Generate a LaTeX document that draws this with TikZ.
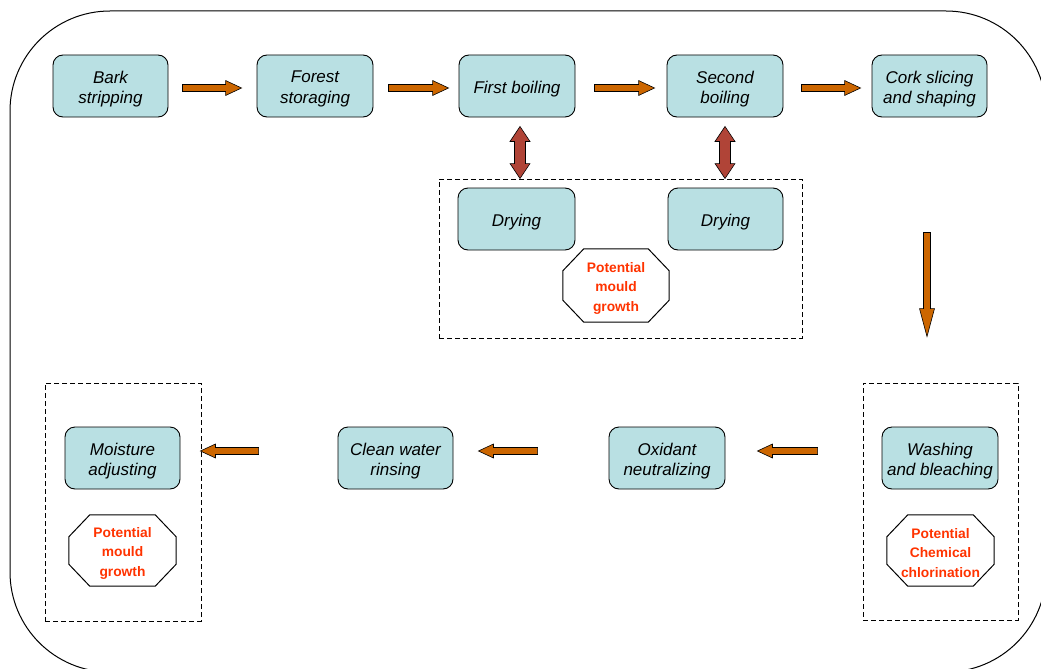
\documentclass[tikz,border=0pt]{standalone}
\usepackage{fontspec}
\setmainfont{Liberation Sans}
\usetikzlibrary{calc}
\definecolor{boxfill}{RGB}{185,224,227}
\definecolor{arrorange}{RGB}{204,102,0}
\definecolor{arrred}{RGB}{176,68,55}
\definecolor{warnred}{RGB}{255,51,0}
\tikzset{
  steptext/.style={align=center, inner sep=0pt, yshift=-3pt,
    font=\fontsize{17}{20.5}\selectfont\itshape, text=black},
  stepbox/.style={draw=black, line width=0.9pt, fill=boxfill, rounded corners=10pt,
    minimum width=115pt, minimum height=62pt, inner sep=0pt,
    label={[steptext]center:#1}},
  warntext/.style={align=center, inner sep=0pt, yshift=-2.5pt,
    font=\fontsize{13.8}{19.5}\selectfont\bfseries, text=warnred},
  warnbox/.style={minimum width=106pt, minimum height=72pt, inner sep=0pt,
    label={[warntext]center:#1}},
  octline/.style={draw=black, line width=1pt},
  groupbox/.style={draw=black, dash pattern=on 5pt off 3pt, line width=0.9pt, inner sep=0pt},
  flowarrow/.style={draw=black, line width=0.6pt, fill=arrorange},
  duoarrow/.style={draw=black, line width=0.6pt, fill=arrred},
  outline/.style={draw=black, line width=1pt, rounded corners=100pt},
}
% block arrow: style, from, to, half shaft, half head, head length
\newcommand\blockarrow[6]{%
  \coordinate (ba-a) at (#2); \coordinate (ba-b) at (#3);
  \coordinate (ba-h) at ($(ba-b)!#6!(ba-a)$);
  \draw[#1] ($(ba-a)!#4!90:(ba-b)$) -- ($(ba-h)!#4!-90:(ba-a)$) -- ($(ba-h)!#5!-90:(ba-a)$)
    -- (ba-b) -- ($(ba-h)!#5!90:(ba-a)$) -- ($(ba-h)!#4!90:(ba-a)$)
    -- ($(ba-a)!#4!-90:(ba-b)$) -- cycle;}
% double block arrow
\newcommand\dblblockarrow[6]{%
  \coordinate (da-a) at (#2); \coordinate (da-b) at (#3);
  \coordinate (da-h1) at ($(da-a)!#6!(da-b)$); \coordinate (da-h2) at ($(da-b)!#6!(da-a)$);
  \draw[#1] (da-a) -- ($(da-h1)!#5!90:(da-b)$) -- ($(da-h1)!#4!90:(da-b)$)
    -- ($(da-h2)!#4!-90:(da-a)$) -- ($(da-h2)!#5!-90:(da-a)$) -- (da-b)
    -- ($(da-h2)!#5!90:(da-a)$) -- ($(da-h2)!#4!90:(da-a)$)
    -- ($(da-h1)!#4!-90:(da-b)$) -- ($(da-h1)!#5!-90:(da-b)$) -- cycle;}
% octagon outline around a node
\newcommand\octoutline[1]{%
  \draw[octline] ($(#1.north west)+(21,0)$) -- ($(#1.north east)+(-21,0)$)
    -- ($(#1.north east)+(0,22)$) -- ($(#1.south east)+(0,-22)$)
    -- ($(#1.south east)+(-21,0)$) -- ($(#1.south west)+(21,0)$)
    -- ($(#1.south west)+(0,-22)$) -- ($(#1.north west)+(0,22)$) -- cycle;}
\begin{document}
\begin{tikzpicture}[x=1pt, y=-1pt]
\useasboundingbox (0,0) rectangle (1041,669);
\begin{scope}
  \clip (0,0) rectangle (1041,669);
  \draw[outline] (10,11) rectangle (1046,672);
\end{scope}

% dashed groups
\node[groupbox, minimum width=363pt, minimum height=159pt] (group1) at (620.5,258.5) {};
\node[groupbox, minimum width=155pt, minimum height=237pt] (group2) at (940.5,501.5) {};
\node[groupbox, minimum width=156pt, minimum height=238pt] (group3) at (123,502) {};

% top row
\node[stepbox={Bark\\stripping}] (bark) at (110.5,86) {};
\node[stepbox={Forest\\storaging}, minimum width=116pt] (forest) at (315,86) {};
\node[stepbox={First boiling}, minimum width=116pt] (first) at (517,86) {};
\node[stepbox={Second\\boiling}, minimum width=116pt] (second) at (725,86) {};
\node[stepbox={Cork slicing\\and shaping}] (cork) at (929.5,86) {};

% drying group
\node[stepbox={Drying}, minimum width=117pt] (dry1) at (516.5,219) {};
\node[stepbox={Drying}] (dry2) at (725.5,219) {};
\node[warnbox={Potential\\mould\\growth}, minimum height=73pt] (mould1) at (616,285.5) {};
\octoutline{mould1}

% bottom row
\node[stepbox={Washing\\and bleaching}, minimum width=116pt] (washing) at (940,458) {};
\node[warnbox={Potential\\Chemical\\chlorination}, minimum width=107pt, minimum height=71pt] (chlor) at (940.5,550.5) {};
\octoutline{chlor}
\node[stepbox={Oxidant\\neutralizing}, minimum width=116pt] (oxidant) at (667,458) {};
\node[stepbox={Clean water\\rinsing}] (clean) at (395.5,458) {};
\node[stepbox={Moisture\\adjusting}] (moisture) at (122.5,458) {};
\node[warnbox={Potential\\mould\\growth}, minimum width=107pt, minimum height=71pt] (mould2) at (122.5,550.5) {};
\octoutline{mould2}

% arrows top row
\blockarrow{flowarrow}{$(bark.east)+(14,2)$}{$(forest.west)+(-15,2)$}{3.5pt}{7.5pt}{16pt}
\blockarrow{flowarrow}{$(forest.east)+(15,2)$}{$(first.west)+(-10,2)$}{3.5pt}{7.5pt}{16pt}
\blockarrow{flowarrow}{$(first.east)+(19,2)$}{$(second.west)+(-12,2)$}{3.5pt}{7.5pt}{16pt}
\blockarrow{flowarrow}{$(second.east)+(18,2)$}{$(cork.west)+(-11,2)$}{3.5pt}{7.5pt}{16pt}

% double arrows to drying
\dblblockarrow{duoarrow}{$(first.south)+(3,9)$}{$(first.south |- group1.north)+(3,0)$}{5.5pt}{10pt}{15pt}
\dblblockarrow{duoarrow}{$(second.south)+(0,9)$}{$(second.south |- group1.north)$}{5.5pt}{10pt}{15pt}

% down arrow
\blockarrow{flowarrow}{$(cork.south)+(-2.5,115)$}{$(group2.north)+(-13.5,-46)$}{3.5pt}{7.5pt}{28pt}

% bottom row arrows
\blockarrow{flowarrow}{$(washing.west -| group2.west)+(-45,-7)$}{$(oxidant.east)+(32,-7)$}{3.5pt}{7pt}{15pt}
\blockarrow{flowarrow}{$(oxidant.west)+(-71,-7)$}{$(clean.east)+(25,-7)$}{3.5pt}{7pt}{15pt}
\blockarrow{flowarrow}{$(clean.west)+(-79,-7)$}{$(moisture.east -| group3.east)+(-1,-7)$}{3.5pt}{7pt}{15pt}
\end{tikzpicture}
\end{document}
